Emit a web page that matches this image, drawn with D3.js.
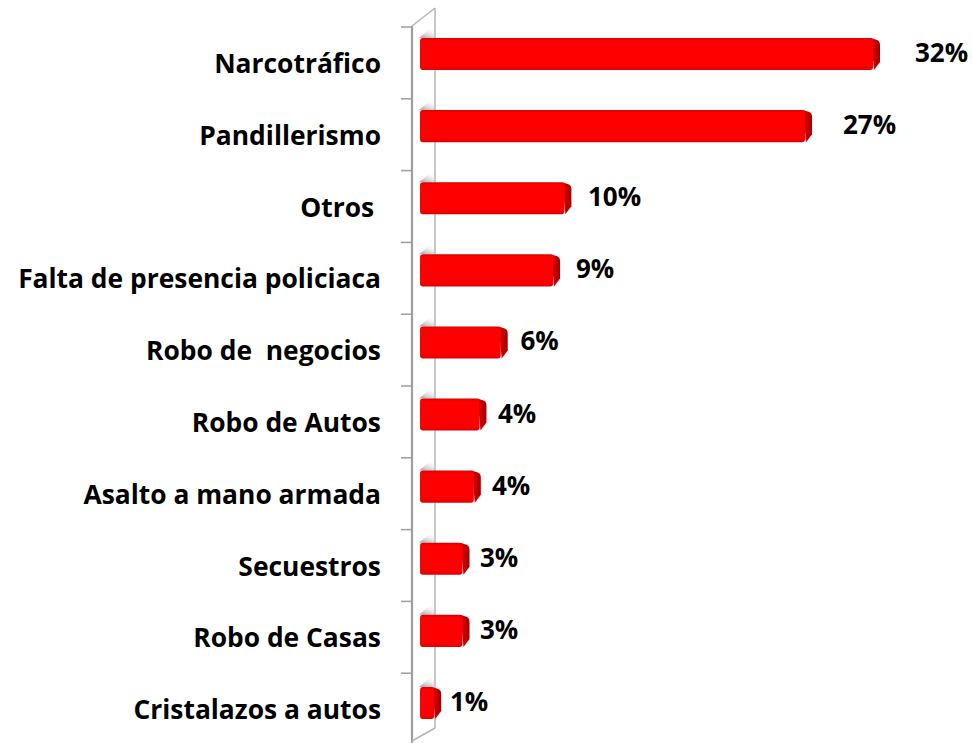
<!DOCTYPE html>
<html><head><meta charset="utf-8">
<script src="https://cdn.jsdelivr.net/npm/d3@7"></script>
<style>html,body{margin:0;padding:0;background:#fff;}svg{display:block;}</style>
</head><body>
<svg id="chart" width="973" height="743"></svg>
<script>
const categories = ["Narcotráfico","Pandillerismo","Otros ","Falta de presencia policiaca","Robo de  negocios","Robo de Autos","Asalto a mano armada","Secuestros","Robo de Casas","Cristalazos a autos"];
const values = [32.0, 27.2, 10.2, 9.4, 5.7, 4.2, 3.8, 3.0, 3.0, 1.0];
const valueLabels = ["32%","27%","10%","9%","6%","4%","4%","3%","3%","1%"];

const svg = d3.select("#chart");
const FONT = "'Open Sans', Lato, sans-serif";

// scales
const x = d3.scaleLinear().domain([0, 32]).range([420, 873]);
const xLabel = d3.scaleLinear().domain([0, 32]).range([435, 915]);
const yBar = d3.scaleBand().domain(categories).range([18, 739]).paddingInner(0.555).paddingOuter(0.2775);
const yFront = d3.scaleBand().domain(categories).range([27, 745]);

const defs = svg.append("defs");
const gFront = defs.append("linearGradient").attr("id","gFront").attr("x1",0).attr("y1",0).attr("x2",0).attr("y2",1);
gFront.append("stop").attr("offset","0%").attr("stop-color","#d40000");
gFront.append("stop").attr("offset","8%").attr("stop-color","#ff0000");
gFront.append("stop").attr("offset","85%").attr("stop-color","#ff0000");
gFront.append("stop").attr("offset","100%").attr("stop-color","#e00000");
const gSide = defs.append("linearGradient").attr("id","gSide").attr("x1",0).attr("y1",0).attr("x2",1).attr("y2",0);
gSide.append("stop").attr("offset","0%").attr("stop-color","#e00000");
gSide.append("stop").attr("offset","100%").attr("stop-color","#a00000");
const gWall = defs.append("linearGradient").attr("id","gWall").attr("x1",0).attr("y1",1).attr("x2",0.4).attr("y2",0);
gWall.append("stop").attr("offset","0%").attr("stop-color","#9a9a9a");
gWall.append("stop").attr("offset","100%").attr("stop-color","#ffffff").attr("stop-opacity",0);

// wall
const wall = svg.append("g");
const wallFrontX = 412, wallBackX = 435;
wall.append("line").attr("x1",wallFrontX).attr("x2",wallFrontX).attr("y1",26).attr("y2",743)
  .attr("stroke","#9e9e9e").attr("stroke-width",2.2);
wall.append("line").attr("x1",wallBackX).attr("x2",wallBackX).attr("y1",8).attr("y2",728)
  .attr("stroke","#b4b4b4").attr("stroke-width",1.5);
wall.append("line").attr("x1",wallFrontX).attr("x2",wallBackX).attr("y1",26).attr("y2",8)
  .attr("stroke","#b4b4b4").attr("stroke-width",1.5);
wall.append("line").attr("x1",wallBackX).attr("x2",wallFrontX).attr("y1",728).attr("y2",741)
  .attr("stroke","#b4b4b4").attr("stroke-width",1.5);

// ticks
wall.selectAll("line.tick").data(categories).join("line").attr("class","tick")
  .attr("x1",401).attr("x2",wallFrontX)
  .attr("y1",d=>yFront(d)).attr("y2",d=>yFront(d))
  .attr("stroke","#9e9e9e").attr("stroke-width",1.5);

// wall shadow behind each bar
svg.append("g").selectAll("path").data(categories).join("path")
  .attr("d", d => {
    const t = yBar(d);
    return `M${x(0)-1},${t} L${wallBackX-1},${t-13} L${wallBackX-1},${t} Z`;
  })
  .attr("fill","url(#gWall)");

// bars
const bars = svg.append("g");
const data = categories.map((c,i)=>({c, v: values[i], label: valueLabels[i]}));
const depth = 7;
bars.selectAll("path.side").data(data).join("path").attr("class","side")
  .attr("d", d => {
    const e = x(d.v), t = yBar(d.c), b = t + yBar.bandwidth();
    return `M${e-2},${t} L${e+depth-3},${t+2} Q${e+depth},${t+3} ${e+depth},${t+7} L${e+depth},${b-8} L${e+1},${b} Z`;
  })
  .attr("fill","url(#gSide)");
bars.selectAll("rect.front").data(data).join("rect").attr("class","front")
  .attr("x", x(0)).attr("y", d=>yBar(d.c))
  .attr("width", d=>x(d.v)-x(0)).attr("height", yBar.bandwidth())
  .attr("rx",3).attr("fill","url(#gFront)");

// value labels
svg.append("g").selectAll("text").data(data).join("text")
  .attr("x", d=>xLabel(d.v))
  .attr("y", d=>yBar(d.c)+yBar.bandwidth()/2 - 2)
  .attr("dominant-baseline","central")
  .attr("font-family",FONT).attr("font-weight","bold").attr("font-size",26)
  .attr("fill","#000").text(d=>d.label);

// category labels
svg.append("g").selectAll("text").data(categories).join("text")
  .attr("x", 381)
  .attr("y", d=>yFront(d)+yFront.bandwidth()/2)
  .attr("dominant-baseline","central")
  .attr("text-anchor","end")
  .attr("xml:space","preserve")
  .style("white-space","pre")
  .attr("font-family",FONT).attr("font-weight","bold").attr("font-size",26.4)
  .attr("fill","#000").text(d=>d);
</script>
</body></html>
